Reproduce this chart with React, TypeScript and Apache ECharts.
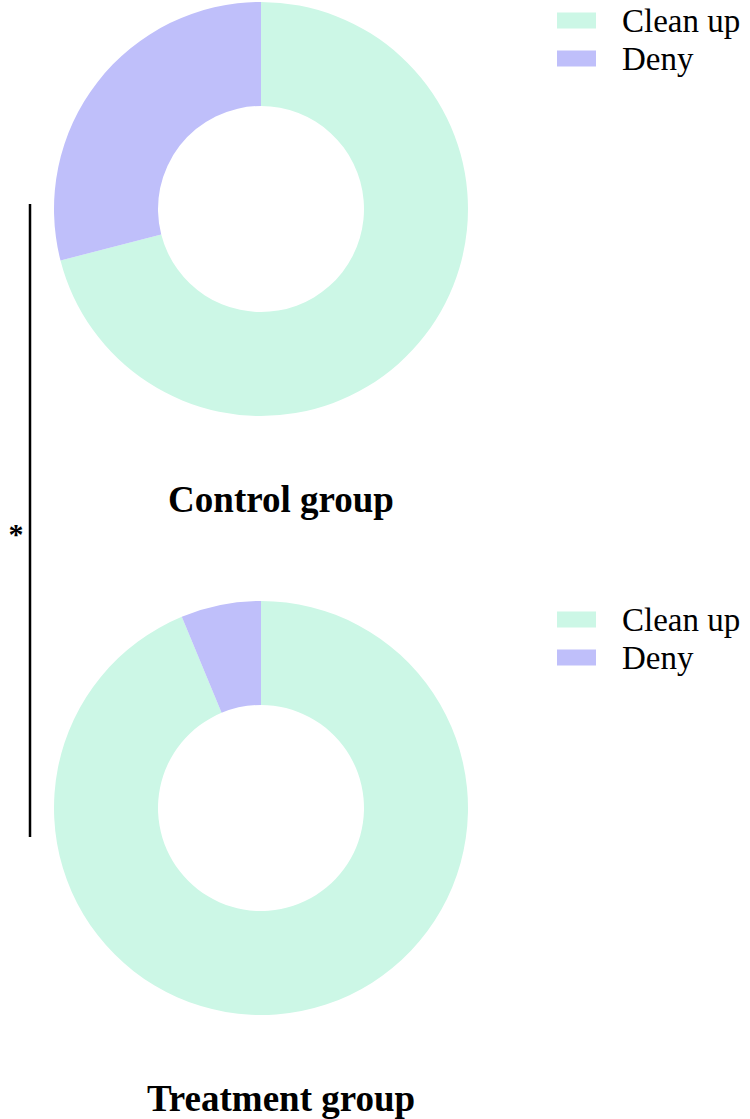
import React, { useEffect, useRef } from "react";
import * as echarts from "echarts";

const categories = ["Clean up", "Deny"];
const controlValues = [71, 29];
const treatmentValues = [93.75, 6.25];
const groupTitles = ["Control group", "Treatment group"];
const colors = ["#ccf7e6", "#bfbffa"];

export default function App() {
  const ref = useRef<HTMLDivElement>(null);
  useEffect(() => {
    document.body.style.margin = "0";
    const chart = echarts.init(ref.current!, null, { renderer: "svg" });
    const font = "Liberation Serif";
    const mk = (vals: number[]) => categories.map((c, i) => ({ name: c, value: vals[i] }));
    const legendBase = {
      orient: "vertical",
      left: 557,
      padding: 0,
      itemWidth: 39,
      itemHeight: 16,
      itemGap: 5,
      icon: "rect",
      selectedMode: false,
      textStyle: {
        fontFamily: font,
        fontSize: 33,
        lineHeight: 33,
        color: "#000",
        padding: [0, 0, 0, 21],
      },
      data: categories,
    };
    chart.setOption({
      animation: false,
      color: colors,
      textStyle: { fontFamily: font },
      legend: [
        { ...legendBase, top: 4 },
        { ...legendBase, top: 603 },
      ],
      series: [
        {
          type: "pie",
          center: [261, 209],
          radius: [103, 207],
          startAngle: 90,
          clockwise: true,
          label: { show: false },
          labelLine: { show: false },
          emphasis: { disabled: true },
          data: mk(controlValues),
        },
        {
          type: "pie",
          center: [261, 808],
          radius: [103, 207],
          startAngle: 90,
          clockwise: true,
          label: { show: false },
          labelLine: { show: false },
          emphasis: { disabled: true },
          data: mk(treatmentValues),
        },
      ],
      graphic: [
        {
          type: "text",
          x: 281,
          y: 499,
          style: {
            text: groupTitles[0],
            fontFamily: font,
            fontSize: 37,
            fontWeight: "bold",
            fill: "#000",
            textAlign: "center",
            textVerticalAlign: "middle",
          },
        },
        {
          type: "text",
          x: 281,
          y: 1098,
          style: {
            text: groupTitles[1],
            fontFamily: font,
            fontSize: 37,
            fontWeight: "bold",
            fill: "#000",
            textAlign: "center",
            textVerticalAlign: "middle",
          },
        },
        {
          type: "line",
          shape: { x1: 30, y1: 204, x2: 30, y2: 837 },
          style: { stroke: "#000", lineWidth: 2.5 },
        },
        {
          type: "text",
          x: 16,
          y: 533,
          style: {
            text: "*",
            fontFamily: font,
            fontSize: 30,
            fontWeight: "bold",
            fill: "#000",
            textAlign: "center",
            textVerticalAlign: "middle",
          },
        },
      ],
    });
    return () => chart.dispose();
  }, []);
  return <div ref={ref} style={{ width: 750, height: 1119 }} />;
}
